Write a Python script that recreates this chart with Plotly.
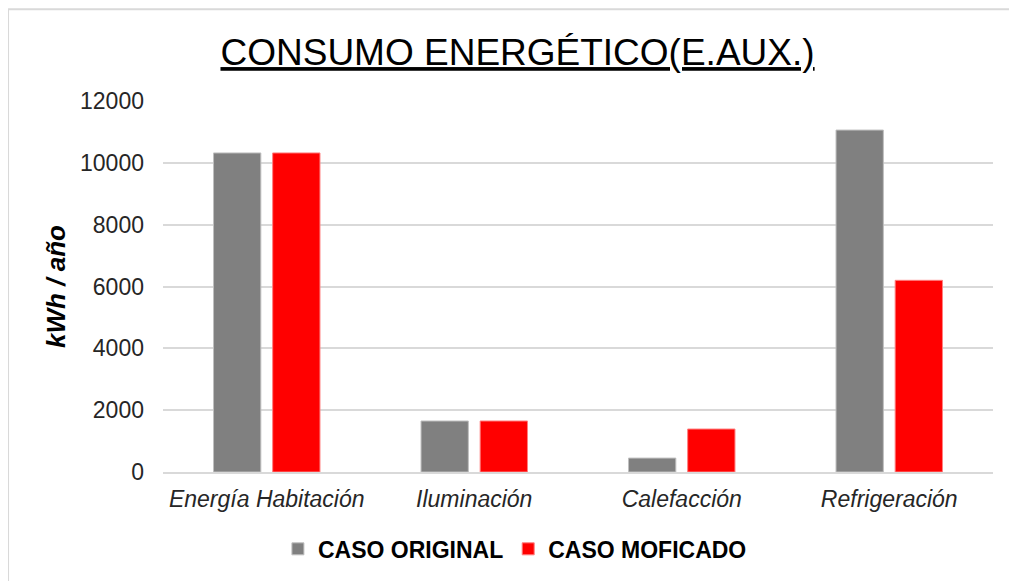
import plotly.graph_objects as go

### Datos ###
categorias = ["Energía Habitación", "Iluminación", "Calefacción", "Refrigeración"]
caso_original = [10320, 1650, 450, 11060]
caso_modificado = [10320, 1650, 1390, 6200]
ticks_y = [0, 2000, 4000, 6000, 8000, 10000, 12000]

fuente = "Liberation Sans, Arial, sans-serif"

### Figura ###
fig = go.Figure()
fig.add_trace(go.Bar(x=categorias, y=caso_original, name="CASO ORIGINAL",
                     marker=dict(color="#808080", line=dict(color="#bfbfbf", width=1))))
fig.add_trace(go.Bar(x=categorias, y=caso_modificado, name="CASO MOFICADO",
                     marker=dict(color="#ff0000", line=dict(color="#ff8080", width=1))))

# la pagina tiene un margen de 8px, se compensa con el tamano
fig.update_layout(
    width=1009, height=573,
    margin=dict(l=155, r=24, t=93, b=108),
    paper_bgcolor="white", plot_bgcolor="white",
    barmode="group", bargap=0.43, bargroupgap=0.2,
    font=dict(family=fuente, color="#262626"),
    title=dict(text="<u>CONSUMO ENERGÉTICO(E.AUX.)</u>", x=0.505, xanchor="center",
               y=0.923, yanchor="middle", font=dict(size=37, color="black")),
    xaxis=dict(tickfont=dict(size=23, style="italic"), showline=True,
               linecolor="#d9d9d9", linewidth=2, ticks="", ticklabelstandoff=5),
    yaxis=dict(title=dict(text="<b><i>kWh / año</i></b>", font=dict(size=26, color="black"), standoff=6),
               range=[0, 12000], tickvals=ticks_y, tickformat="d", tickfont=dict(size=23),
               gridcolor="#d9d9d9", gridwidth=2, zeroline=False, ticks="", ticklabelstandoff=18),
    legend=dict(orientation="h", x=0.424, xanchor="center", y=-0.204, yanchor="middle",
                font=dict(size=23, color="black", weight="bold"), itemwidth=30),
    showlegend=True,
)

# borde del grafico
fig.add_shape(type="line", xref="paper", yref="paper", x0=-0.1867, x1=1.05, y0=1.247, y1=1.247,
              line=dict(color="#d9d9d9", width=2))
fig.add_shape(type="line", xref="paper", yref="paper", x0=-0.1867, x1=-0.1867, y0=1.247, y1=-0.3,
              line=dict(color="#d9d9d9", width=2))

fig.write_html("out.html")
